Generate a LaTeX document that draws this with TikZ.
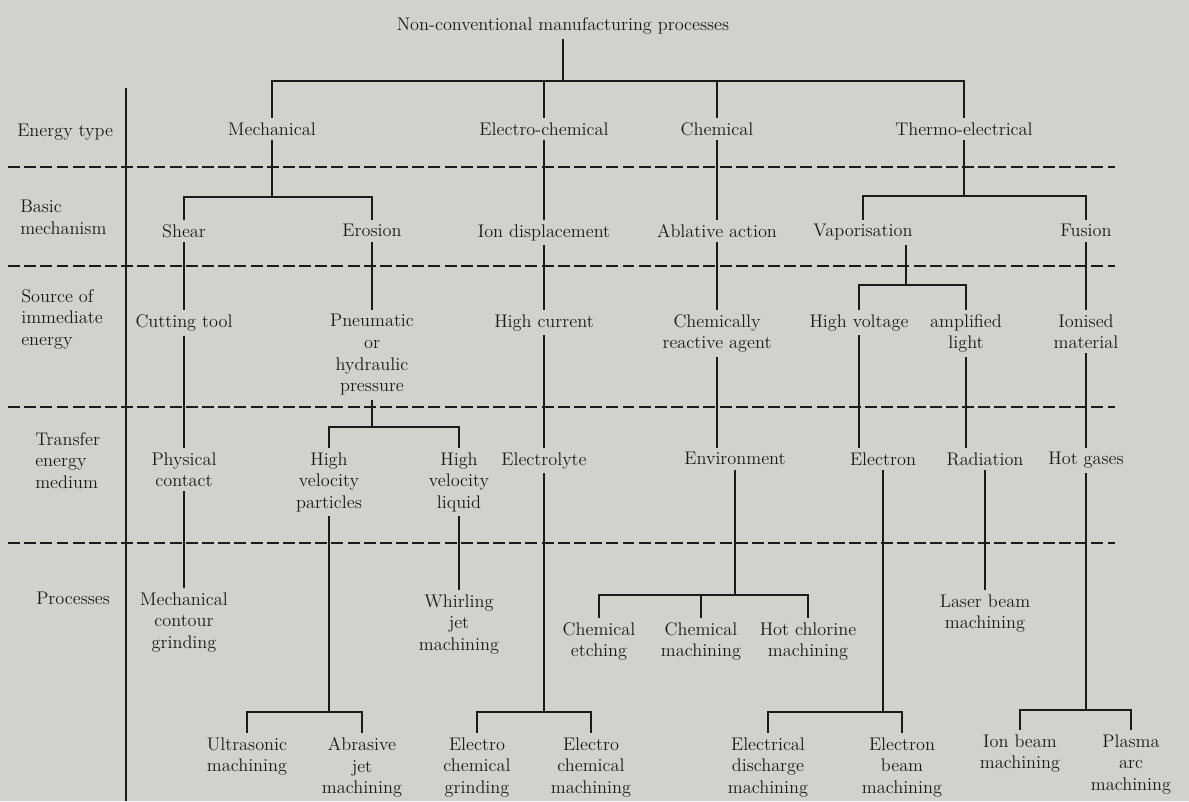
\documentclass[tikz,border=0pt]{standalone}
\usepackage{tikz}
\usetikzlibrary{calc}

\definecolor{paper}{RGB}{210,209,204}
\definecolor{ink}{RGB}{26,26,26}

\begin{document}
\begin{tikzpicture}[
        x=0.025cm, y=-0.025cm,
        item/.style={
            anchor=north,
            align=center,
            inner sep=3pt,
            text=ink,
            font=\fontsize{13}{15.3}\selectfont
        },
        rowname/.style={
            anchor=north west,
            align=left,
            inner sep=0pt,
            text=ink,
            font=\fontsize{13}{15.3}\selectfont
        },
        link/.style={draw=ink, line width=0.9pt},
        divider/.style={draw=ink, line width=0.9pt, dash pattern=on 8.5pt off 3pt}
    ]

    % Paper
    \fill[paper] (0,0) rectangle (1189,801);

    % Row names
    \node[rowname] (rtype)     at (17,124)  {Energy type};
    \node[rowname] (rmech)     at (20,200)  {Basic\\mechanism};
    \node[rowname] (rsource)   at (21,289)  {Source of\\immediate\\energy};
    \node[rowname] (rmedium)   at (35,432)  {Transfer\\energy\\medium};
    \node[rowname] (rprocess)  at (36,592)  {Processes};

    % Row dividers and left rule
    \foreach \yy in {167,266,407,543}
        \draw[divider] (8,\yy) -- (1115,\yy);
    \draw[link] (126,88) -- (126,801);

    % Top node
    \node[item] (top) at (563,13) {Non-conventional manufacturing processes};

    % Energy type
    \node[item] (mech)   at (272,118) {Mechanical};
    \node[item] (elchem) at (544,118) {Electro-chemical};
    \node[item] (chem)   at (717,118) {Chemical};
    \node[item] (thermo) at (964,118) {Thermo-electrical};

    % Basic mechanism
    \node[item] (shear)    at (184,220)  {Shear};
    \node[item] (erosion)  at (372,220)  {Erosion};
    \node[item] (iondisp)  at (544,220)  {Ion displacement};
    \node[item] (ablative) at (717,220)  {Ablative action};
    \node[item] (vapour)   at (863,220)  {Vaporisation};
    \node[item] (fusion)   at (1086,220) {Fusion};

    % Source of immediate energy
    \node[item] (cutting)   at (184,310)  {Cutting tool};
    \node[item] (pneumatic) at (372,310)  {Pneumatic\\or\\hydraulic\\pressure};
    \node[item] (highcur)   at (544,310)  {High current};
    \node[item] (reactive)  at (717,310)  {Chemically\\reactive agent};
    \node[item] (voltage)   at (859,310)  {High voltage};
    \node[item] (light)     at (966,310)  {amplified\\light};
    \node[item] (ionised)   at (1086,310) {Ionised\\material};

    % Transfer energy medium
    \node[item] (contact)     at (184,448)  {Physical\\contact};
    \node[item] (particles)   at (329,448)  {High\\velocity\\particles};
    \node[item] (liquid)      at (459,448)  {High\\velocity\\liquid};
    \node[item] (electrolyte) at (544,448)  {Electrolyte};
    \node[item] (environ)     at (735,448)  {Environment};
    \node[item] (electron)    at (883,448)  {Electron};
    \node[item] (radiation)   at (985,448)  {Radiation};
    \node[item] (hotgas)      at (1086,448) {Hot gases};

    % Processes
    \node[item] (mcg)      at (184,588) {Mechanical\\contour\\grinding};
    \node[item] (whirl)    at (459,590) {Whirling\\jet\\machining};
    \node[item] (etching)  at (599,618) {Chemical\\etching};
    \node[item] (chemmach) at (701,618) {Chemical\\machining};
    \node[item] (chlorine) at (808,618) {Hot chlorine\\machining};
    \node[item] (laser)    at (985,590) {Laser beam\\machining};

    \node[item] (ultra)    at (247,733)  {Ultrasonic\\machining};
    \node[item] (abrasive) at (362,733)  {Abrasive\\jet\\machining};
    \node[item] (ecg)      at (477,733)  {Electro\\chemical\\grinding};
    \node[item] (ecm)      at (591,733)  {Electro\\chemical\\machining};
    \node[item] (edm)      at (768,733)  {Electrical\\discharge\\machining};
    \node[item] (ebm)      at (902,733)  {Electron\\beam\\machining};
    \node[item] (ionbeam)  at (1020,730) {Ion beam\\machining};
    \node[item] (plasma)   at (1131,730) {Plasma\\arc\\machining};

    % Branch points
    \coordinate (j0) at (563,81);
    \coordinate (j1) at (272,197);
    \coordinate (j2) at (964,196);
    \coordinate (j3) at (906,285);
    \coordinate (j4) at (372,427);
    \coordinate (j5) at (544,712);
    \coordinate (j6) at (735,595);
    \coordinate (j7) at (883,712);
    \coordinate (j8) at (1086,710);
    \coordinate (j9) at (329,712);

    % Top -> energy types
    \draw[link] (top) -- (j0);
    \draw[link] (j0) -| (mech);
    \draw[link] (j0) -| (elchem);
    \draw[link] (j0) -| (chem);
    \draw[link] (j0) -| (thermo);

    % Mechanical branch
    \draw[link] (mech) -- (j1);
    \draw[link] (j1) -| (shear);
    \draw[link] (j1) -| (erosion);
    \draw[link] (shear) -- (cutting);
    \draw[link] (cutting) -- (contact);
    \draw[link] (contact) -- (mcg);
    \draw[link] (erosion) -- (pneumatic);
    \draw[link] (pneumatic) -- (j4);
    \draw[link] (j4) -| (particles);
    \draw[link] (j4) -| (liquid);
    \draw[link] (particles) -- (j9);
    \draw[link] (j9) -| (ultra);
    \draw[link] (j9) -| (abrasive);
    \draw[link] (liquid) -- (whirl);

    % Electro-chemical branch
    \draw[link] (elchem) -- (iondisp);
    \draw[link] (iondisp) -- (highcur);
    \draw[link] (highcur) -- (electrolyte);
    \draw[link] (electrolyte) -- (j5);
    \draw[link] (j5) -| (ecg);
    \draw[link] (j5) -| (ecm);

    % Chemical branch
    \draw[link] (chem) -- (ablative);
    \draw[link] (ablative) -- (reactive);
    \draw[link] (reactive) -- (reactive |- environ.north);
    \draw[link] (environ) -- (j6);
    \draw[link] (j6) -| (etching);
    \draw[link] (j6) -| (chemmach);
    \draw[link] (j6) -| (chlorine);

    % Thermo-electrical branch
    \draw[link] (thermo) -- (j2);
    \draw[link] (j2) -| (vapour);
    \draw[link] (j2) -| (fusion);
    \draw[link] (vapour.south -| j3) -- (j3);
    \draw[link] (j3) -| (voltage);
    \draw[link] (j3) -| (light);
    \draw[link] (voltage) -- (voltage |- electron.north);
    \draw[link] (electron) -- (j7);
    \draw[link] (j7) -| (edm);
    \draw[link] (j7) -| (ebm);
    \draw[link] (light) -- (light |- radiation.north);
    \draw[link] (radiation) -- (laser);
    \draw[link] (fusion) -- (ionised);
    \draw[link] (ionised) -- (hotgas);
    \draw[link] (hotgas) -- (j8);
    \draw[link] (j8) -| (ionbeam);
    \draw[link] (j8) -| (plasma);

\end{tikzpicture}
\end{document}
